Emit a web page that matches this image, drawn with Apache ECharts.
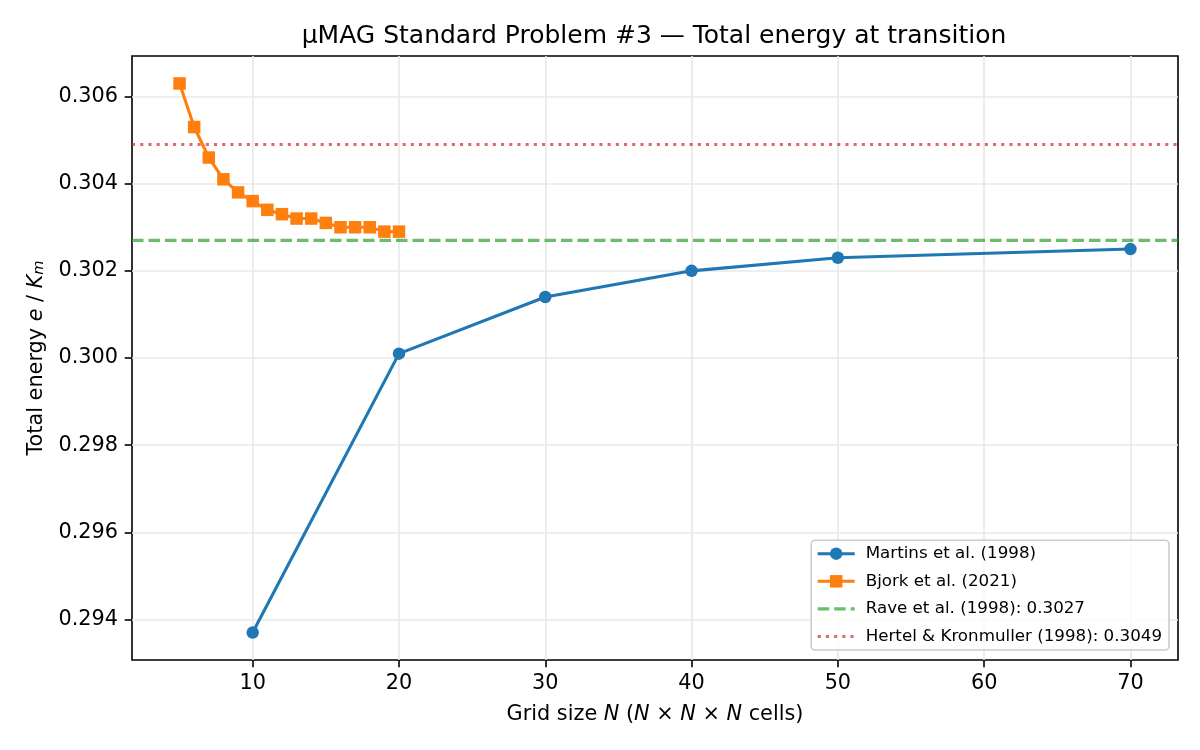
<!DOCTYPE html>
<html>
<head>
<meta charset="utf-8">
<title>muMAG Standard Problem #3</title>
<script src="https://cdn.jsdelivr.net/npm/echarts@6/dist/echarts.min.js"></script>
<style>
  html, body { margin: 0; padding: 0; background: #fff; }
  #main { width: 1200px; height: 750px; }
</style>
</head>
<body>
<div id="main"></div>
<script>
// data
let martinsN = [10, 20, 30, 40, 50, 70]
let martinsE = [0.2937, 0.3001, 0.3014, 0.3020, 0.3023, 0.3025]

let bjorkN = [5, 6, 7, 8, 9, 10, 11, 12, 13, 14, 15, 16, 17, 18, 19, 20]
let bjorkE = [0.3063, 0.3053, 0.3046, 0.3041, 0.3038, 0.3036, 0.3034, 0.3033,
  0.3032, 0.3032, 0.3031, 0.3030, 0.3030, 0.3030, 0.3029, 0.3029]

let raveE = 0.3027
let hertelE = 0.3049

let xTicks = [10, 20, 30, 40, 50, 60, 70]
let yTicks = [0.294, 0.296, 0.298, 0.300, 0.302, 0.304, 0.306]

// axis range like matplotlib's 5% margins
let xMin = 1.75, xMax = 73.25
let yMin = 0.29307, yMax = 0.30693

const FONT = 'DejaVu Sans'

function pairs(xs, ys) {
  let out = []
  for (let i = 0; i < xs.length; i++) out.push([xs[i], ys[i]])
  return out
}

let myChart = echarts.init(document.getElementById('main'), null, { renderer: 'canvas' })

let option = {
  animation: false,
  backgroundColor: '#fff',
  textStyle: { fontFamily: FONT },
  title: {
    text: 'μMAG Standard Problem #3 — Total energy at transition',
    left: 649,
    top: 19,
    textAlign: 'center',
    textStyle: { fontFamily: FONT, fontSize: 25, fontWeight: 'normal', color: '#000' }
  },
  grid: {
    left: 132, right: 22, top: 56, bottom: 90,
    show: true, borderColor: '#000', borderWidth: 1.6, backgroundColor: 'transparent'
  },
  legend: {
    orient: 'vertical',
    right: 31,
    bottom: 100,
    padding: [5, 7, 5, 5],
    itemWidth: 37,
    itemHeight: 15.6,
    itemGap: 10.6,
    backgroundColor: 'rgba(255,255,255,0.8)',
    borderColor: '#cccccc',
    borderWidth: 1.6,
    borderRadius: 4,
    lineStyle: { width: 3.1 },
    textStyle: { fontFamily: FONT, fontSize: 16.7, color: '#000', padding: [0, 0, 0, 6] },
    data: [
      { name: 'Martins et al. (1998)' },
      { name: 'Bjork et al. (2021)' },
      { name: 'Rave et al. (1998): 0.3027' },
      { name: 'Hertel & Kronmuller (1998): 0.3049' }
    ]
  },
  xAxis: {
    type: 'value',
    min: xMin,
    max: xMax,
    name: '{a|Grid size }{i|N}{a| (}{i|N}{a| × }{i|N}{a| × }{i|N}{a| cells)}',
    nameLocation: 'middle',
    nameGap: 44,
    nameTextStyle: {
      rich: {
        a: { fontFamily: FONT, fontSize: 20.8, color: '#000' },
        i: { fontFamily: FONT, fontSize: 20.8, fontStyle: 'italic', color: '#000' }
      }
    },
    axisLine: { show: false },
    axisTick: { show: true, length: 7.3, lineStyle: { color: '#000', width: 1.6 }, customValues: xTicks },
    axisLabel: { customValues: xTicks, margin: 13, fontFamily: FONT, fontSize: 20.8, color: '#000' },
    splitLine: { show: true, lineStyle: { color: '#e8e8e8', width: 1.6 } }
  },
  yAxis: {
    type: 'value',
    min: yMin,
    max: yMax,
    name: '{a|Total energy }{i|e}{a| / }{i|K}{s|m}',
    nameLocation: 'middle',
    nameGap: 85,
    nameRotate: 90,
    nameTextStyle: {
      rich: {
        a: { fontFamily: FONT, fontSize: 20.8, color: '#000' },
        i: { fontFamily: FONT, fontSize: 20.8, fontStyle: 'italic', color: '#000' },
        s: { fontFamily: FONT, fontSize: 14.6, fontStyle: 'italic', color: '#000', verticalAlign: 'bottom', lineHeight: 14 }
      }
    },
    axisLine: { show: false },
    axisTick: { show: true, length: 7.3, lineStyle: { color: '#000', width: 1.6 }, customValues: yTicks },
    axisLabel: {
      customValues: yTicks, margin: 14, fontFamily: FONT, fontSize: 20.8, color: '#000',
      formatter: function(v) { return v.toFixed(3) }
    },
    splitLine: { show: true, lineStyle: { color: '#e8e8e8', width: 1.6 } }
  },
  series: [
    {
      name: 'Martins et al. (1998)',
      type: 'line',
      data: pairs(martinsN, martinsE),
      symbol: 'circle',
      symbolSize: 12.5,
      lineStyle: { color: '#1f77b4', width: 3.1 },
      itemStyle: { color: '#1f77b4' },
      z: 5
    },
    {
      name: 'Bjork et al. (2021)',
      type: 'line',
      data: pairs(bjorkN, bjorkE),
      symbol: 'rect',
      symbolSize: 12.5,
      lineStyle: { color: '#ff7f0e', width: 3.1 },
      itemStyle: { color: '#ff7f0e' },
      z: 5
    },
    {
      name: 'Rave et al. (1998): 0.3027',
      type: 'line',
      data: [[xMin, raveE], [xMax, raveE]],
      symbol: 'none',
      lineStyle: { color: '#2ca02c', width: 3.1, type: [11.5, 5], opacity: 0.7 },
      itemStyle: { color: '#2ca02c', opacity: 0 },
      z: 3
    },
    {
      name: 'Hertel & Kronmuller (1998): 0.3049',
      type: 'line',
      data: [[xMin, hertelE], [xMax, hertelE]],
      symbol: 'none',
      lineStyle: { color: '#d62728', width: 3.1, type: [3.1, 5.1], opacity: 0.7 },
      itemStyle: { color: '#d62728', opacity: 0 },
      z: 3
    }
  ]
}

myChart.setOption(option)
</script>
</body>
</html>
